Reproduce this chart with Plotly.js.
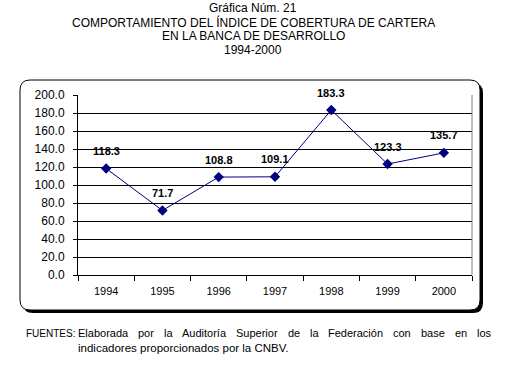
<!DOCTYPE html>
<html>
<head>
<meta charset="utf-8">
<script src="https://cdn.plot.ly/plotly-3.0.1.min.js"></script>
<style>
html,body{margin:0;padding:0;background:#fff;}
#chart{width:506px;height:371px;}
</style>
</head>
<body>
<div id="chart"></div>
<script>
// ---- data ----
const years = ["1994", "1995", "1996", "1997", "1998", "1999", "2000"];
const values = [118.3, 71.7, 108.8, 109.1, 183.3, 123.3, 135.7];
const valueLabels = ["118.3", "71.7", "108.8", "109.1", "183.3", "123.3", "135.7"];
const titleLines = [
  "Gráfica Núm. 21",
  "COMPORTAMIENTO DEL ÍNDICE DE COBERTURA DE CARTERA",
  "EN LA BANCA DE DESARROLLO",
  "1994-2000"
];
const sourceLabel = "FUENTES:";
const sourceLine1 = "Elaborada por la Auditoría Superior de la Federación con base en los";
const sourceLine2 = "indicadores proporcionados por la CNBV.";

// ---- layout geometry (pixels) ----
const W = 506, H = 371;
const M = {l: 78, r: 34, t: 95, b: 96};
const PW = W - M.l - M.r, PH = H - M.t - M.b;
const px = x => (x - M.l) / PW;
const py = y => (H - M.b - y) / PH;
const FONT = "Liberation Sans, Arial, sans-serif";

function roundRect(x0, y0, x1, y1, r) {
  const X = px, Y = py;
  return "M" + X(x0 + r) + "," + Y(y0) +
    " L" + X(x1 - r) + "," + Y(y0) +
    " Q" + X(x1) + "," + Y(y0) + " " + X(x1) + "," + Y(y0 + r) +
    " L" + X(x1) + "," + Y(y1 - r) +
    " Q" + X(x1) + "," + Y(y1) + " " + X(x1 - r) + "," + Y(y1) +
    " L" + X(x0 + r) + "," + Y(y1) +
    " Q" + X(x0) + "," + Y(y1) + " " + X(x0) + "," + Y(y1 - r) +
    " L" + X(x0) + "," + Y(y0 + r) +
    " Q" + X(x0) + "," + Y(y0) + " " + X(x0 + r) + "," + Y(y0) + " Z";
}

const shapes = [
  {type: "path", xref: "paper", yref: "paper", layer: "below",
   path: roundRect(23, 83, 483, 313, 10), fillcolor: "#000", line: {width: 0}},
  {type: "path", xref: "paper", yref: "paper", layer: "below",
   path: roundRect(20, 80, 480, 310, 10), fillcolor: "#fff", line: {color: "#000", width: 1}},
  {type: "line", xref: "paper", yref: "paper", layer: "above",
   x0: 1, x1: 1, y0: 0, y1: 1, line: {color: "#808080", width: 1}}
];

const annotations = [];
const titleY = [8, 22, 36, 50];
titleLines.forEach((t, i) => {
  annotations.push({xref: "paper", yref: "paper", x: px(253), y: py(titleY[i]),
    xanchor: "center", yanchor: "middle", showarrow: false, text: t,
    font: {family: FONT, size: 12, color: "#000"}});
});
years.forEach((yr, i) => {
  // category axis: annotation x is the category's serial index
  annotations.push({x: i, y: values[i], xref: "x", yref: "y", showarrow: false,
    yshift: 17.5, yanchor: "middle", xanchor: "center", text: "<b>" + valueLabels[i] + "</b>",
    font: {family: FONT, size: 11, color: "#000"}});
});
// footnote
annotations.push({xref: "paper", yref: "paper", x: px(25), y: py(333), xanchor: "left",
  yanchor: "middle", showarrow: false, text: sourceLabel, borderpad: 0,
  font: {family: FONT, size: 10, color: "#000"}});
// justified first line
(function () {
  const c = document.createElement("canvas").getContext("2d");
  c.font = "11px 'Liberation Sans'";
  const words = sourceLine1.split(" ");
  const widths = words.map(w => c.measureText(w).width);
  const left = 77, right = 490;
  const total = widths.reduce((a, b) => a + b, 0);
  const gap = (right - left - total) / (words.length - 1);
  let x = left;
  words.forEach((w, i) => {
    annotations.push({xref: "paper", yref: "paper", x: px(x), y: py(333), xanchor: "left",
      yanchor: "middle", showarrow: false, text: w, borderpad: 0,
      font: {family: FONT, size: 11, color: "#000"}});
    x += widths[i] + gap;
  });
})();
annotations.push({xref: "paper", yref: "paper", x: px(77), y: py(348), xanchor: "left",
  yanchor: "middle", showarrow: false, text: sourceLine2, borderpad: 0,
  font: {family: FONT, size: 11.5, color: "#000"}});

const trace = {
  x: years, y: values, type: "scatter", mode: "lines+markers",
  line: {color: "#000080", width: 1},
  marker: {symbol: "diamond", size: 8, color: "#000080"},
  hoverinfo: "skip"
};

const layout = {
  width: W, height: H,
  margin: M,
  paper_bgcolor: "#fff",
  plot_bgcolor: "#C0C0C0",
  showlegend: false,
  font: {family: FONT, color: "#000"},
  xaxis: {type: "category", tickson: "boundaries", ticks: "outside", ticklen: 5,
    tickcolor: "#000", showline: true, linecolor: "#000", linewidth: 1,
    showgrid: false, zeroline: false, fixedrange: true, tickangle: 0,
    ticklabelstandoff: 6,
    range: [-0.5, years.length - 0.5],
    tickfont: {family: FONT, size: 11, color: "#000"}},
  yaxis: {range: [0, 200], dtick: 20, tick0: 0, tickformat: ".1f", ticks: "outside", ticklen: 4,
    tickcolor: "#000", showline: true, linecolor: "#000", linewidth: 1,
    ticklabelstandoff: 6,
    showgrid: true, gridcolor: "#000", gridwidth: 1, zeroline: false, fixedrange: true,
    tickfont: {family: FONT, size: 12, color: "#000"}},
  shapes: shapes,
  annotations: annotations
};

Plotly.newPlot("chart", [trace], layout, {staticPlot: true, displayModeBar: false});
</script>
</body>
</html>
